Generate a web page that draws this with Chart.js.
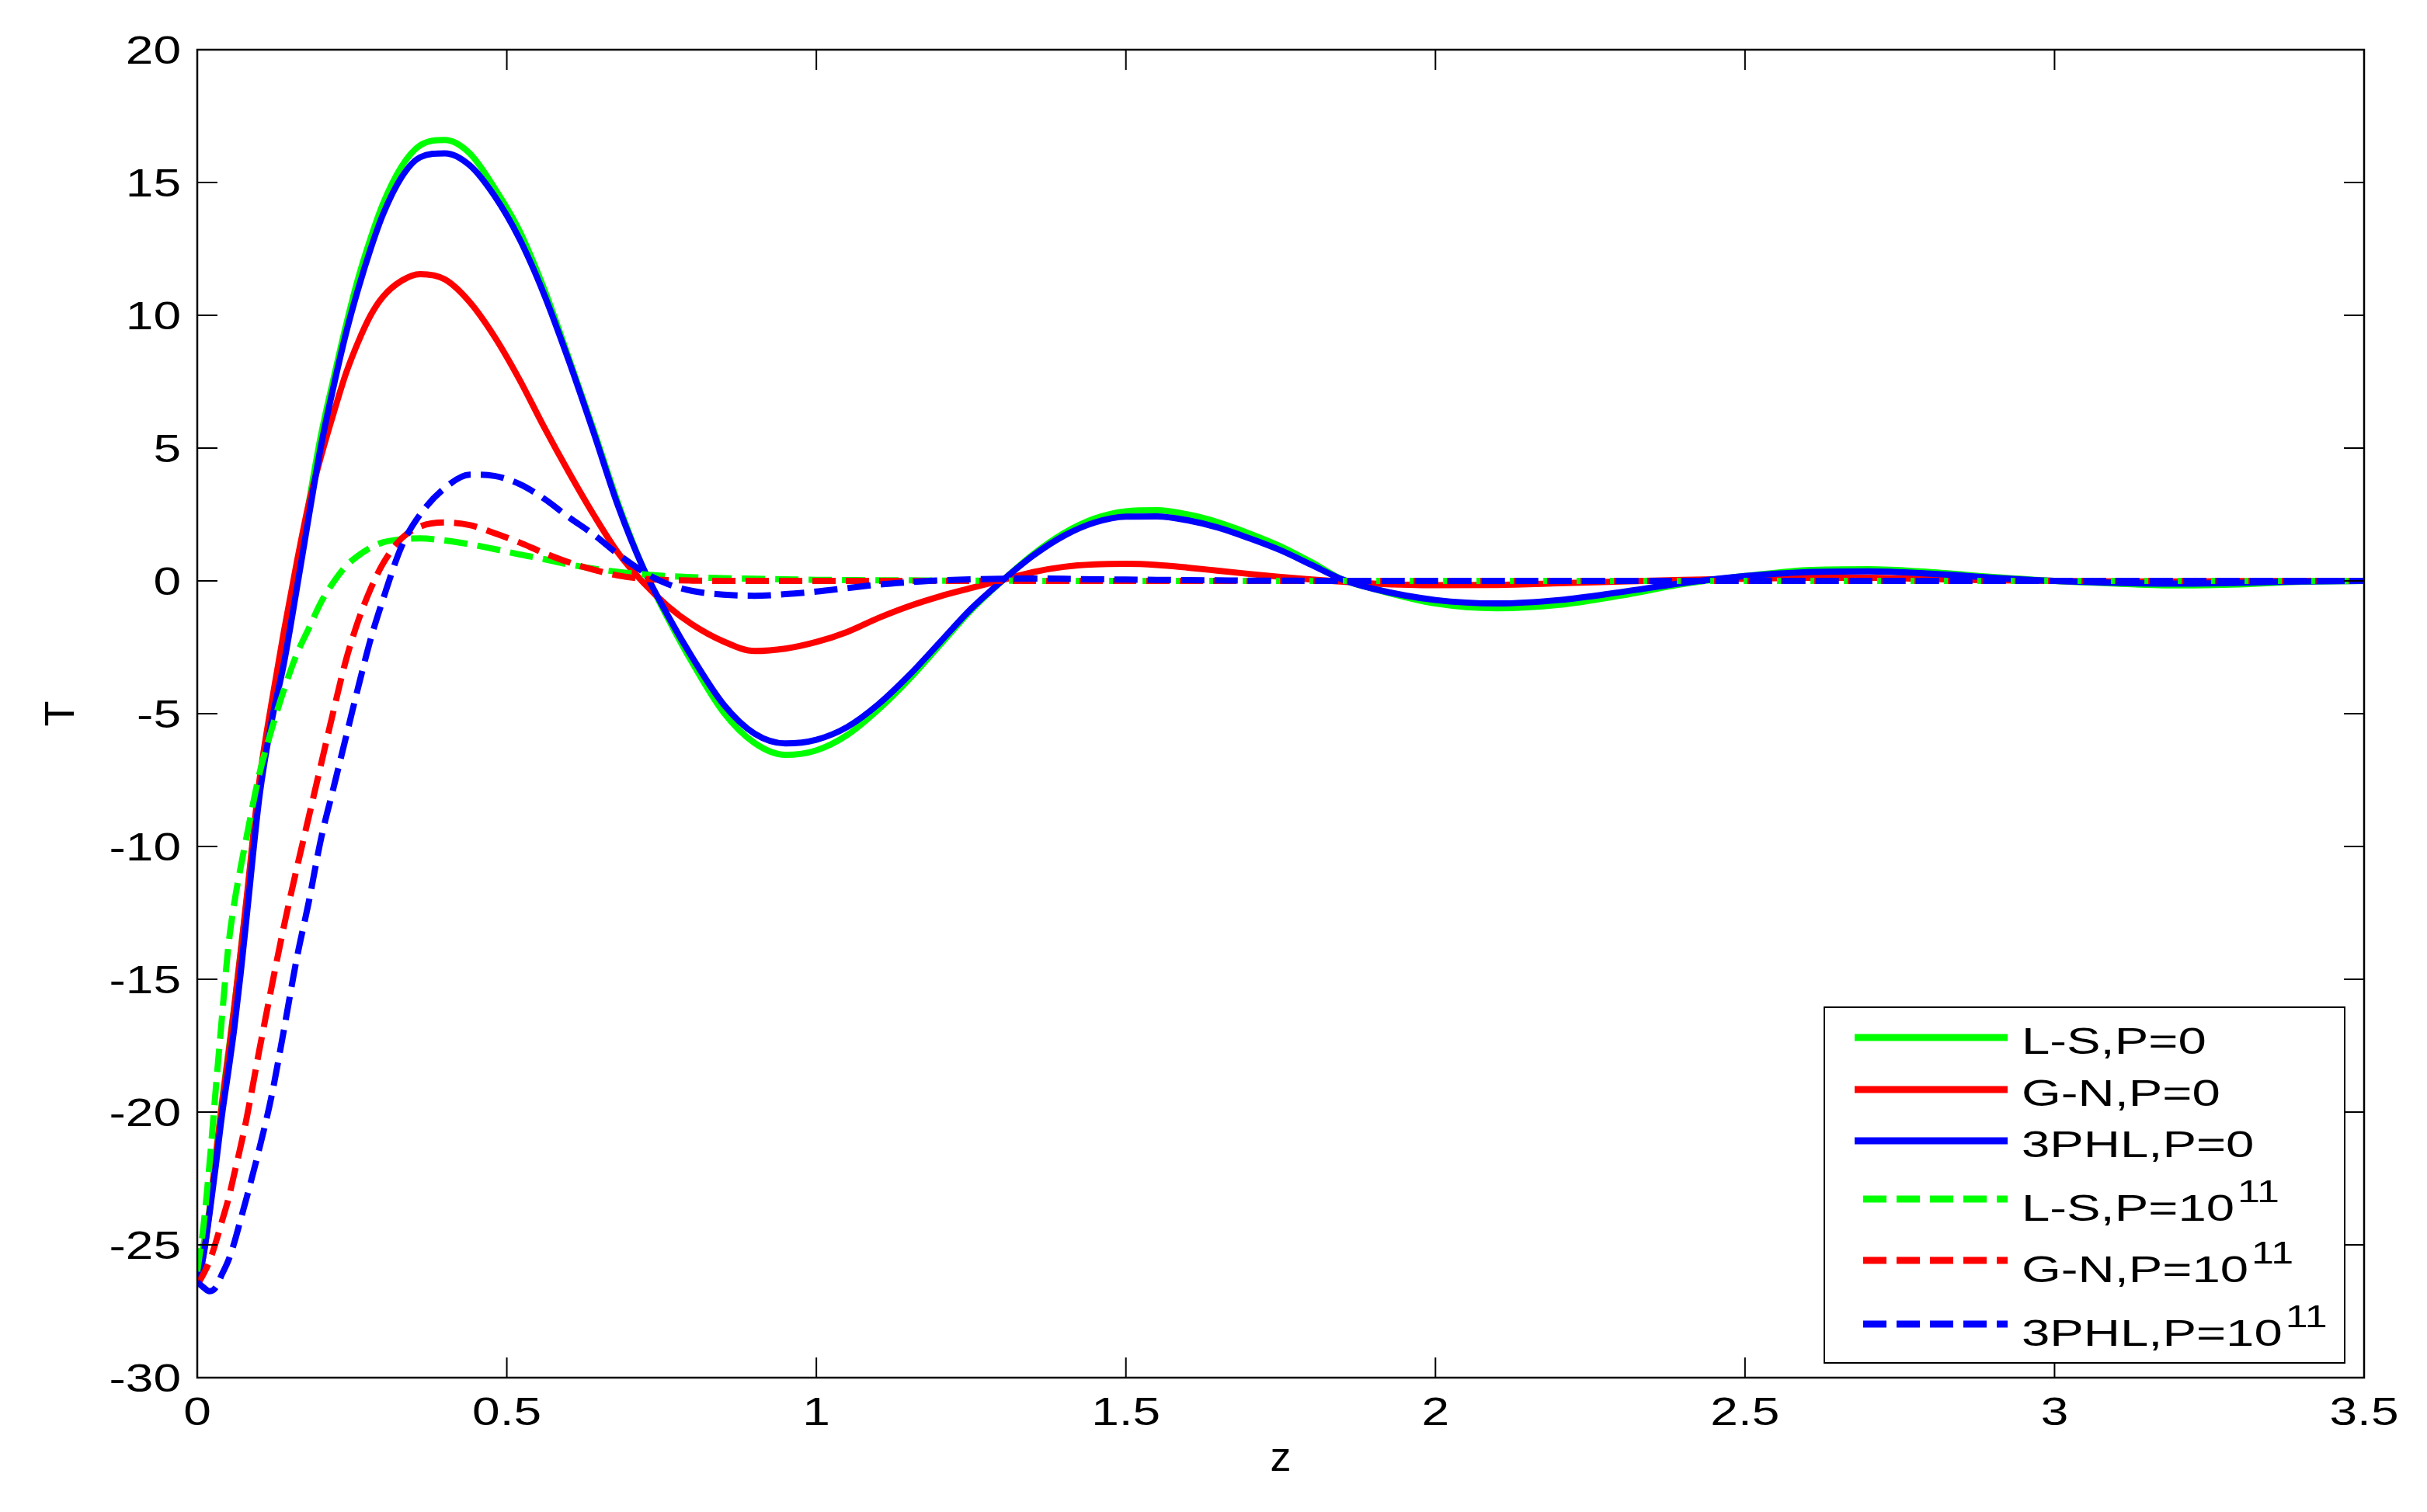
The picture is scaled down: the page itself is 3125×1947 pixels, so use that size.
<!DOCTYPE html>
<html>
<head>
<meta charset="utf-8">
<title>T vs z</title>
<script src="https://cdn.jsdelivr.net/npm/chart.js@4.4.1/dist/chart.umd.min.js"></script>
<style>
  html, body { margin: 0; padding: 0; background: #fff; }
</style>
</head>
<body>
<canvas id="chart" width="3125" height="1947"></canvas>
<script>
// z grid shared by every curve (denser near z=0 where the curves are steep)
const zValues = [0, 0.01, 0.02, 0.03, 0.04, 0.05, 0.06, 0.07, 0.08,
  0.1, 0.12, 0.14, 0.16, 0.18, 0.2, 0.22, 0.24, 0.26, 0.28, 0.3,
  0.33, 0.36, 0.4,
  0.44, 0.48, 0.52, 0.56, 0.6, 0.64, 0.68, 0.72, 0.76, 0.8,
  0.85, 0.9, 0.95, 1.0,
  1.05, 1.1, 1.15, 1.2, 1.25, 1.3, 1.35, 1.4, 1.45, 1.5, 1.55, 1.6, 1.65, 1.7, 1.75, 1.8, 1.85, 1.9,
  2.0, 2.1, 2.2, 2.3, 2.4, 2.5, 2.6, 2.7, 2.8, 2.9, 3.0, 3.1, 3.2, 3.3, 3.4, 3.5];

const lsP0 = [-25.8, -25.0, -23.6, -21.6, -19.6, -17.8, -16.0, -14.0, -12.0,
  -7.8, -4.8, -2.8, 0.0, 2.9, 5.5, 7.6, 9.6, 11.4, 12.9, 14.2,
  15.6, 16.4, 16.6,
  16.1, 14.8, 13.2, 11.0, 8.4, 5.7, 2.9, 0.5, -1.4, -3.1,
  -4.95, -6.1, -6.55, -6.38,
  -5.8, -4.85, -3.7, -2.4, -1.1, 0.0, 1.0, 1.8, 2.35, 2.62, 2.66, 2.5, 2.2, 1.78, 1.3, 0.7, 0.05, -0.3,
  -0.85, -1.03, -0.9, -0.55, -0.12, 0.18, 0.4, 0.44, 0.33, 0.15, 0.0, -0.1, -0.17, -0.13, -0.03, 0.0];

const gnP0 = [-26.5, -25.4, -23.7, -21.7, -19.7, -17.9, -16.0, -14.0, -11.9,
  -7.6, -4.6, -1.9, 0.6, 2.9, 4.7, 6.3, 7.8, 9.0, 10.0, 10.7,
  11.3, 11.55, 11.35,
  10.5, 9.2, 7.6, 5.8, 4.1, 2.5, 1.05, -0.05, -0.95, -1.65,
  -2.28, -2.64, -2.55, -2.3,
  -1.92, -1.4, -0.95, -0.58, -0.27, 0.03, 0.33, 0.53, 0.62, 0.64, 0.6, 0.5, 0.38, 0.26, 0.15, 0.05, -0.03, -0.1,
  -0.16, -0.15, -0.09, -0.02, 0.04, 0.08, 0.12, 0.12, 0.07, 0.02, 0.0, -0.02, -0.02, -0.01, 0.0, 0.0];

const phlP0 = [-26.4, -25.4, -23.8, -22.0, -20.1, -18.5, -16.8, -14.8, -12.6,
  -8.2, -5.3, -3.1, -0.4, 2.4, 5.1, 7.3, 9.3, 11.0, 12.5, 13.8,
  15.2, 15.95, 16.1,
  15.65, 14.5, 12.9, 10.8, 8.3, 5.6, 2.8, 0.5, -1.3, -2.9,
  -4.65, -5.75, -6.12, -5.98,
  -5.5, -4.65, -3.55, -2.3, -1.05, 0.0, 0.95, 1.7, 2.2, 2.42, 2.43, 2.28, 2.0, 1.6, 1.15, 0.6, 0.05, -0.3,
  -0.72, -0.85, -0.72, -0.42, -0.08, 0.18, 0.33, 0.36, 0.27, 0.12, 0.0, -0.07, -0.1, -0.07, -0.02, 0.0];

const lsP11 = [-26.0, -24.3, -21.9, -19.1, -16.4, -13.8, -12.1, -10.8, -9.6,
  -7.3, -5.6, -4.1, -2.8, -1.8, -0.8, -0.05, 0.55, 0.95, 1.25, 1.45,
  1.57, 1.6, 1.52,
  1.38, 1.2, 1.0, 0.82, 0.62, 0.46, 0.34, 0.25, 0.18, 0.14,
  0.1, 0.08, 0.06, 0.04,
  0.03, 0.02, 0.02, 0.01, 0.01, 0.01, 0, 0, 0, 0, 0, 0, 0, 0, 0, 0, 0, 0,
  0, 0, 0, 0, 0, 0, 0, 0, 0, 0, 0, 0, 0, 0, 0, 0];

const gnP11 = [-26.5, -26.1, -25.6, -24.9, -24.1, -23.3, -22.3, -21.3, -20.2,
  -17.7, -15.3, -13.0, -10.9, -8.9, -6.9, -4.9, -3.0, -1.5, -0.3, 0.65,
  1.6, 2.05, 2.2,
  2.1, 1.8, 1.45, 1.05, 0.7, 0.42, 0.2, 0.08, 0.03, 0.01,
  0, 0, 0, 0,
  0, 0, 0, 0, 0, 0, 0, 0, 0, 0, 0, 0, 0, 0, 0, 0, 0, 0,
  0, 0, 0, 0, 0, 0, 0, 0, 0, 0, 0, 0, 0, 0, 0, 0];

const phlP11 = [-26.4, -26.6, -26.75, -26.6, -26.1, -25.6, -24.9, -24.05, -23.2,
  -21.4, -19.4, -16.9, -14.3, -12.1, -9.7, -7.8, -5.9, -4.0, -2.2, -0.7,
  1.3, 2.5, 3.5,
  4.0, 3.95, 3.65, 3.1, 2.4, 1.75, 1.0, 0.35, -0.12, -0.38,
  -0.52, -0.56, -0.5, -0.4,
  -0.27, -0.14, -0.05, 0.02, 0.06, 0.08, 0.09, 0.08, 0.06, 0.05, 0.04, 0.03, 0.02, 0.01, 0.01, 0, 0, 0,
  0, 0, 0, 0, 0, 0, 0, 0, 0, 0, 0, 0, 0, 0, 0, 0];

const seriesLabels = ['L-S,P=0', 'G-N,P=0', '3PHL,P=0', 'L-S,P=10^11', 'G-N,P=10^11', '3PHL,P=10^11'];
const xTicks = [0, 0.5, 1, 1.5, 2, 2.5, 3, 3.5];
const yTicks = [-30, -25, -20, -15, -10, -5, 0, 5, 10, 15, 20];

const FONT = '"Liberation Sans", Arial, Helvetica, sans-serif';
const GREEN = '#00ff00', RED = '#ff0000', BLUE = '#0000ff';
const DASH = [30, 13];
const STRETCH = 1.28; // the source figure's text is wider than plain Arial

function toPoints(ys) {
  return zValues.map((z, i) => ({ x: z, y: ys[i] }));
}

function line(label, ys, color, dashed, order) {
  return {
    label: label,
    data: toPoints(ys),
    borderColor: color,
    backgroundColor: color,
    borderWidth: 8,
    borderDash: dashed ? DASH : [],
    borderCapStyle: 'butt',
    borderJoinStyle: 'round',
    cubicInterpolationMode: 'monotone',
    pointRadius: 0,
    fill: false,
    order: order
  };
}

function wideText(ctx, text, x, y, align, sx) {
  ctx.save();
  ctx.translate(x, y);
  ctx.scale(sx, 1);
  ctx.textAlign = align;
  ctx.fillText(text, 0, 0);
  ctx.restore();
}

// MATLAB style box with inward ticks on all four sides, tick labels and the boxed legend
const matlabFrame = {
  id: 'matlabFrame',
  afterDatasetsDraw(chart) {
    const { ctx, chartArea: a, scales } = chart;
    ctx.save();
    ctx.strokeStyle = '#000';
    ctx.lineWidth = 2.5;
    ctx.strokeRect(a.left, a.top, a.right - a.left, a.bottom - a.top);

    const len = 26;
    ctx.lineWidth = 2;
    ctx.beginPath();
    xTicks.forEach(v => {
      const x = scales.x.getPixelForValue(v);
      ctx.moveTo(x, a.bottom); ctx.lineTo(x, a.bottom - len);
      ctx.moveTo(x, a.top); ctx.lineTo(x, a.top + len);
    });
    yTicks.forEach(v => {
      const y = scales.y.getPixelForValue(v);
      ctx.moveTo(a.left, y); ctx.lineTo(a.left + len, y);
      ctx.moveTo(a.right, y); ctx.lineTo(a.right - len, y);
    });
    ctx.stroke();

    // tick labels
    ctx.fillStyle = '#000';
    ctx.font = '50px ' + FONT;
    ctx.textBaseline = 'alphabetic';
    xTicks.forEach(v => {
      wideText(ctx, String(v), scales.x.getPixelForValue(v), a.bottom + 61, 'center', STRETCH);
    });
    yTicks.forEach(v => {
      wideText(ctx, String(v), a.left - 21, scales.y.getPixelForValue(v) + 18, 'right', STRETCH);
    });

    // legend
    const boxW = 670, boxH = 458;
    const bx = a.right - 25 - boxW;
    const by = a.bottom - 19 - boxH;
    ctx.fillStyle = '#fff';
    ctx.fillRect(bx, by, boxW, boxH);
    ctx.lineWidth = 2;
    ctx.strokeRect(bx, by, boxW, boxH);

    const rowY = [39, 106, 172, 247, 326, 408];
    chart.data.datasets.forEach((ds, i) => {
      const y = by + rowY[i];
      const dashed = ds.borderDash.length > 0;
      ctx.strokeStyle = ds.borderColor;
      ctx.lineWidth = 9;
      ctx.setLineDash(ds.borderDash);
      ctx.beginPath();
      ctx.moveTo(bx + (dashed ? 50 : 39), y);
      ctx.lineTo(bx + 236, y);
      ctx.stroke();
      ctx.setLineDash([]);

      const parts = ds.label.split('^');
      const tx = bx + 254;
      const ty = y + (parts[1] ? 28 : 21);
      ctx.fillStyle = '#000';
      ctx.textBaseline = 'alphabetic';
      ctx.font = '48px ' + FONT;
      const w = ctx.measureText(parts[0]).width * 1.36;
      wideText(ctx, parts[0], tx, ty, 'left', 1.36);
      if (parts[1]) {
        ctx.font = '40px ' + FONT;
        wideText(ctx, parts[1], tx + w + 4, ty - 24, 'left', 1.3);
      }
    });
    ctx.restore();
  }
};

const ctx = document.getElementById('chart').getContext('2d');
new Chart(ctx, {
  type: 'line',
  data: {
    datasets: [
      line(seriesLabels[0], lsP0, GREEN, false, 6),
      line(seriesLabels[1], gnP0, RED, false, 5),
      line(seriesLabels[2], phlP0, BLUE, false, 4),
      line(seriesLabels[3], lsP11, GREEN, true, 3),
      line(seriesLabels[4], gnP11, RED, true, 2),
      line(seriesLabels[5], phlP11, BLUE, true, 1)
    ]
  },
  options: {
    responsive: false,
    animation: false,
    devicePixelRatio: 1,
    layout: { padding: { top: 64, right: 81, left: 0, bottom: 0 } },
    plugins: {
      legend: { display: false },
      tooltip: { enabled: false }
    },
    scales: {
      x: {
        type: 'linear',
        min: 0,
        max: 3.5,
        afterBuildTicks: scale => { scale.ticks = xTicks.map(v => ({ value: v })); },
        afterFit: scale => { scale.height = 173; },
        grid: { display: false, drawTicks: false },
        border: { display: false },
        ticks: { display: false },
        title: {
          display: true,
          text: 'z',
          color: '#000',
          font: { family: FONT, size: 54 },
          padding: { top: 0, bottom: 35 }
        }
      },
      y: {
        type: 'linear',
        min: -30,
        max: 20,
        afterBuildTicks: scale => { scale.ticks = yTicks.map(v => ({ value: v })); },
        afterFit: scale => { scale.width = 254; },
        grid: { display: false, drawTicks: false },
        border: { display: false },
        ticks: { display: false },
        title: {
          display: true,
          text: 'T',
          color: '#000',
          font: { family: FONT, size: 54 },
          padding: { top: 48, bottom: 0 }
        }
      }
    }
  },
  plugins: [matlabFrame]
});
</script>
</body>
</html>
